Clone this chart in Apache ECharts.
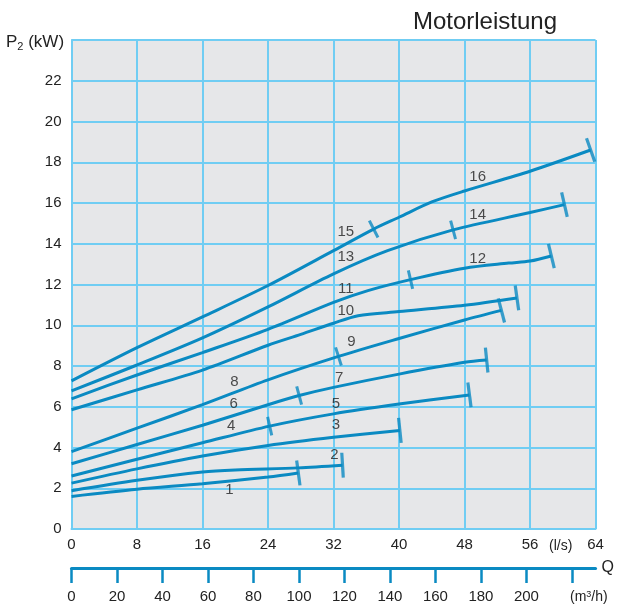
<!DOCTYPE html>
<html><head><meta charset="utf-8">
<script src="https://cdn.jsdelivr.net/npm/echarts@6/dist/echarts.min.js"></script>
<style>html,body{margin:0;padding:0;background:#fff}#c{width:617px;height:604px}</style>
</head><body><div id="c"></div>
<script>
// ---- data (Q in l/s, P2 in kW) ----
const line15_16 = [[0,7.27],[8,8.9],[16,10.41],[24,11.95],[32,13.66],[36.9,14.72],[40,15.3],[44,16.05],[48,16.59],[56,17.56],[63.4,18.6]];
const line13_14 = [[0,6.78],[8,8.05],[16,9.38],[24,10.9],[32,12.52],[38.6,13.66],[46.6,14.68],[56,15.53],[60.2,15.92]];
const line11_12 = [[0,6.39],[8,7.56],[16,8.66],[24,9.8],[32,11.12],[36.2,11.7],[41.4,12.24],[48,12.8],[53.4,13.05],[56,13.15],[58.6,13.4]];
const line10    = [[0,5.85],[8,6.83],[16,7.8],[24,9.02],[28,9.55],[32,10.1],[35,10.47],[40,10.67],[48,10.98],[54.4,11.34]];
const line8_9   = [[0,3.8],[8,4.95],[16,6.1],[24,7.32],[32.6,8.47],[40,9.35],[48,10.26],[52.5,10.73]];
const line6_7   = [[0,3.2],[8,4.15],[16,5.09],[24,6.1],[27.8,6.55],[32,6.95],[40,7.6],[48,8.18],[50.7,8.29]];
const line4_5   = [[0,2.6],[8,3.42],[16,4.23],[24.2,5.05],[32,5.65],[40,6.13],[48.6,6.58]];
const line3     = [[0,2.25],[8,2.95],[16,3.58],[24,4.1],[32,4.5],[40.1,4.84]];
const line2     = [[0,1.88],[8,2.39],[16,2.8],[20,2.9],[27.7,3.0],[33.1,3.13]];
const line1     = [[0,1.6],[8,1.95],[16,2.22],[24,2.55],[27.7,2.75]];

const lines = [line15_16, line13_14, line11_12, line10, line8_9, line6_7, line4_5, line3, line2, line1];
// index of intermediate tick within each line (-1 = none)
const midTickIdx = [5, 6, 6, -1, 4, 4, 3, -1, -1, -1];

const curveLabels = [
  ['1',19.3,1.9],['2',32.1,3.63],['3',32.3,5.09],['4',19.5,5.04],['5',32.3,6.15],['6',19.8,6.15],
  ['7',32.7,7.4],['8',19.9,7.2],['9',34.2,9.19],['10',33.5,10.7],['11',33.5,11.79],['12',49.6,13.25],
  ['13',33.5,13.37],['14',49.6,15.4],['15',33.5,14.59],['16',49.6,17.27]
];

const xLabelsLs = [0,8,16,24,32,40,48,56,64];
const yLabels = [0,2,4,6,8,10,12,14,16,18,20,22];
const xLabelsM3h = [0,20,40,60,80,100,120,140,160,180,200];

const FONT = 'Liberation Sans, Arial, sans-serif';
const CURVE = '#0a8ac2';
const GRIDC = '#70cdf3';
const TXT = '#222';

const chart = echarts.init(document.getElementById('c'), null, {renderer:'canvas'});

function baseOption(tickData){
  const series = [];
  lines.forEach((d,i)=>{
    series.push({type:'line', data:d, smooth:0.3, showSymbol:false, xAxisIndex:0,
      lineStyle:{color:CURVE, width:3}, z:3, silent:true, animation:false});
  });
  series.push({type:'scatter', xAxisIndex:0, data:tickData, symbol:'rect',
    itemStyle:{color:CURVE}, z:4, silent:true, animation:false});
  series.push({type:'scatter', xAxisIndex:0, symbolSize:1, itemStyle:{color:'rgba(0,0,0,0)'}, z:5, animation:false,
    data: curveLabels.map(c=>({name:c[0], value:[c[1],c[2]]})),
    label:{show:true, position:'inside', formatter:'{b}', color:TXT, fontSize:15, fontFamily:FONT}});
  return {
    animation:false,
    backgroundColor:'#ffffff',
    title:{text:'Motorleistung', right:55, top:5,
      textStyle:{fontSize:24, fontWeight:'normal', color:TXT, fontFamily:FONT}},
    grid:{left:71.5, top:40, width:528, height:492, show:true, backgroundColor:'#e6e7e9', borderWidth:0},
    xAxis:[
      {type:'value', min:0, max:64, interval:8, position:'bottom',
        axisLine:{show:true, lineStyle:{color:GRIDC, width:2}}, axisTick:{show:false},
        splitLine:{show:true, lineStyle:{color:GRIDC, width:2}},
        axisLabel:{color:TXT, fontSize:15, fontFamily:FONT, margin:8,
          formatter:v=> xLabelsLs.indexOf(v)>=0 ? String(v) : ''}},
      {type:'value', min:0, max:230.4, interval:20, position:'bottom', offset:39,
        name:'Q', nameLocation:'end', nameGap:6,
        nameTextStyle:{color:TXT, fontSize:16, fontFamily:FONT},
        axisLine:{show:true, lineStyle:{color:CURVE, width:3}},
        axisTick:{show:true, length:15, lineStyle:{color:CURVE, width:2.5}},
        splitLine:{show:false},
        axisLabel:{color:TXT, fontSize:15, fontFamily:FONT, margin:21, showMaxLabel:false,
          formatter:v=> xLabelsM3h.indexOf(v)>=0 ? String(v) : ''}}
    ],
    yAxis:{type:'value', min:0, max:24, interval:2,
      axisLine:{show:true, lineStyle:{color:GRIDC, width:2}}, axisTick:{show:false},
      splitLine:{show:true, lineStyle:{color:GRIDC, width:2}},
      axisLabel:{color:TXT, fontSize:15, fontFamily:FONT, margin:10,
        formatter:v=> yLabels.indexOf(v)>=0 ? String(v) : ''}},
    graphic:[
      {type:'text', left:6, top:34, style:{text:'P{s|2} (kW)', fill:TXT, font:'17px '+FONT,
        rich:{s:{fontSize:11, fontFamily:FONT, fill:TXT, padding:[9,0,0,0]}}}},
      {type:'text', left:549, top:539, style:{text:'(l/s)', fill:TXT, font:'14px '+FONT}},
      {type:'text', left:570, top:590, style:{text:'(m{s|3}/h)', fill:TXT, font:'14px '+FONT,
        rich:{s:{fontSize:9, fontFamily:FONT, fill:TXT, padding:[0,0,6,0]}}}}
    ],
    series
  };
}

// first pass without ticks to get pixel geometry
chart.setOption(baseOption([]));
function ang(a,b){
  const p1 = chart.convertToPixel({xAxisIndex:0, yAxisIndex:0}, a);
  const p2 = chart.convertToPixel({xAxisIndex:0, yAxisIndex:0}, b);
  return Math.atan2(-(p2[1]-p1[1]), p2[0]-p1[0]) * 180 / Math.PI;
}
const ticks = [];
lines.forEach((d,i)=>{
  const n = d.length;
  ticks.push({value:d[n-1], symbolSize:[3.2,25], symbolRotate: ang(d[n-2], d[n-1])});
  const m = midTickIdx[i];
  if (m >= 0) ticks.push({value:d[m], symbolSize:[3,19], symbolRotate: ang(d[m-1], d[m+1])});
});
chart.setOption(baseOption(ticks), true);
</script></body></html>
